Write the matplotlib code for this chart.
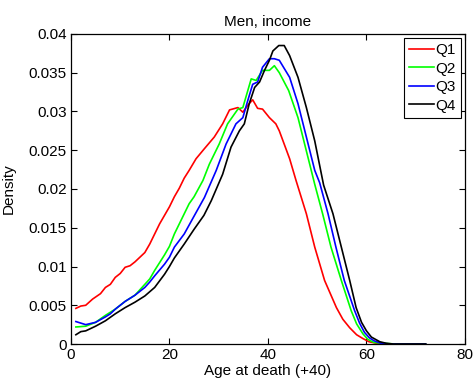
import matplotlib
matplotlib.use('Agg')
import matplotlib.pyplot as plt

# age at death (+40) and density, one series per income quartile
q1_x = [1, 2, 3, 4.4, 6, 7, 8, 9, 10, 11, 12, 13, 14, 15, 16, 17, 18, 19, 20, 21, 22, 23, 24, 25.4,
        27.1, 29.1, 30.8, 32.2, 33.9, 34.9, 35.9, 36.9, 37.9, 38.9, 40.3, 41.6, 42.3, 44.4, 45.7,
        47.8, 49.5, 51.5, 53.9, 55.2, 56.6, 58, 59.3, 60.5, 62, 64, 68, 72]
q1_y = [0.0046, 0.0049, 0.0050, 0.0058, 0.0065, 0.0073, 0.0077, 0.0086, 0.0091, 0.0099, 0.0101, 0.0106,
        0.0112, 0.0118, 0.0129, 0.0142, 0.0155, 0.0166, 0.0177, 0.0190, 0.0201, 0.0214, 0.0224, 0.0239,
        0.0252, 0.0267, 0.0284, 0.0302, 0.0305, 0.0299, 0.0308, 0.0315, 0.0304, 0.0303, 0.0292, 0.0284,
        0.0275, 0.0239, 0.0211, 0.0168, 0.0125, 0.0082, 0.0047, 0.0032, 0.0021, 0.0012, 0.0007, 0.0003,
        0.0001, 0.0, 0.0, 0.0]

q2_x = [1, 3, 5, 7, 9, 11, 13, 15, 16, 17, 18, 19, 20, 21, 22, 23, 24, 25, 26.8, 28.1, 30.1, 31.8,
        33.9, 34.9, 36.6, 37.6, 38.9, 40.3, 41.3, 42.3, 44.2, 46.1, 47.8, 49.5, 51.1, 52.8, 54.9,
        56.9, 58, 59.3, 60.3, 61.5, 63.4, 66, 72]
q2_y = [0.0022, 0.0023, 0.0028, 0.0037, 0.0045, 0.0055, 0.0063, 0.0077, 0.0084, 0.0095, 0.0105, 0.0115,
        0.0126, 0.0142, 0.0155, 0.0168, 0.0181, 0.0190, 0.0211, 0.0232, 0.0258, 0.0284, 0.0303, 0.0305,
        0.0342, 0.0340, 0.0353, 0.0353, 0.0359, 0.0350, 0.0327, 0.0292, 0.0249, 0.0206, 0.0168, 0.0125,
        0.0082, 0.0043, 0.0026, 0.0013, 0.0006, 0.0002, 0.0001, 0.0, 0.0]

q3_x = [1, 3, 5, 7, 8, 9, 11, 13, 15, 16, 17, 19, 20, 21, 23, 25, 27.1, 29.5, 31.5, 33.5, 34.9, 35.9,
        36.9, 37.9, 38.9, 40.3, 41.3, 42.3, 44.4, 46.1, 47.8, 49.5, 50.5, 52.2, 53.8, 55.5, 57.6, 58.6,
        59.6, 60.6, 61.6, 63, 65, 68, 72]
q3_y = [0.0029, 0.0025, 0.0028, 0.0035, 0.0039, 0.0045, 0.0055, 0.0063, 0.0073, 0.0080, 0.0088, 0.0103,
        0.0112, 0.0125, 0.0142, 0.0165, 0.0189, 0.0224, 0.0258, 0.0284, 0.0292, 0.0314, 0.0335, 0.0338,
        0.0357, 0.0368, 0.0368, 0.0366, 0.0344, 0.0310, 0.0267, 0.0224, 0.0208, 0.0168, 0.0125, 0.0082,
        0.0043, 0.0027, 0.0015, 0.0008, 0.0004, 0.0001, 0.0, 0.0, 0.0]

q4_x = [1, 2, 3, 5, 7, 9, 11, 13, 15, 17, 19, 20, 21, 23, 25, 27, 28.5, 30.8, 32.5, 34.2, 35.2, 36.2,
        37.3, 38.3, 39.3, 40.3, 41, 42.2, 43.3, 44.4, 46.1, 47.8, 49.5, 51.3, 53.2, 54.9, 56.6, 57.9,
        59, 60, 61, 62.7, 64, 65.5, 68, 72]
q4_y = [0.0012, 0.0016, 0.0017, 0.0023, 0.0030, 0.0039, 0.0047, 0.0054, 0.0062, 0.0073, 0.0090, 0.0100,
        0.0111, 0.0129, 0.0148, 0.0166, 0.0185, 0.0219, 0.0254, 0.0275, 0.0284, 0.0310, 0.0331, 0.0338,
        0.0353, 0.0366, 0.0378, 0.0385, 0.0385, 0.0372, 0.0344, 0.0305, 0.0262, 0.0205, 0.0168, 0.0125,
        0.0082, 0.0047, 0.0028, 0.0017, 0.0009, 0.0003, 0.0001, 0.0, 0.0, 0.0]

labels = ['Q1', 'Q2', 'Q3', 'Q4']
colors = ['#ff0000', '#00ff00', '#0000ff', '#000000']
xticks = [0, 20, 40, 60, 80]
yticks = [0, 0.005, 0.01, 0.015, 0.02, 0.025, 0.03, 0.035, 0.04]
ytick_labels = ['0', '0.005', '0.01', '0.015', '0.02', '0.025', '0.03', '0.035', '0.04']

plt.rcParams['font.family'] = ['Liberation Sans', 'DejaVu Sans']
plt.rcParams['font.size'] = 11

fig = plt.figure(figsize=(4.73, 3.81), dpi=100)
ax = fig.add_axes([0.150, 0.097, 0.833, 0.814])

series = [(q1_x, q1_y), (q2_x, q2_y), (q3_x, q3_y), (q4_x, q4_y)]
for (xs, ys), lab, c in zip(series, labels, colors):
    ax.plot(xs, ys, color=c, lw=1.2, label=lab)

ax.set_xlim(0, 80)
ax.set_ylim(0, 0.04)
ax.set_xticks(xticks)
ax.set_yticks(yticks)
ax.set_yticklabels(ytick_labels)
ax.tick_params(direction='in', top=True, right=True, length=4, width=0.8, labelsize=11, pad=3)
for s in ax.spines.values():
    s.set_linewidth(0.9)

ax.set_title('Men, income', fontsize=11, pad=6)
ax.set_xlabel('Age at death (+40)', fontsize=11, labelpad=1)
ax.set_ylabel('Density', fontsize=11, labelpad=9)

leg = ax.legend(loc='upper right', fancybox=False, framealpha=1, edgecolor='black',
                handlelength=1.6, handletextpad=0.1, borderpad=0.35, labelspacing=0.3,
                borderaxespad=0.25, fontsize=11)
leg.get_frame().set_linewidth(0.8)

fig.savefig('out.png', dpi=100)
